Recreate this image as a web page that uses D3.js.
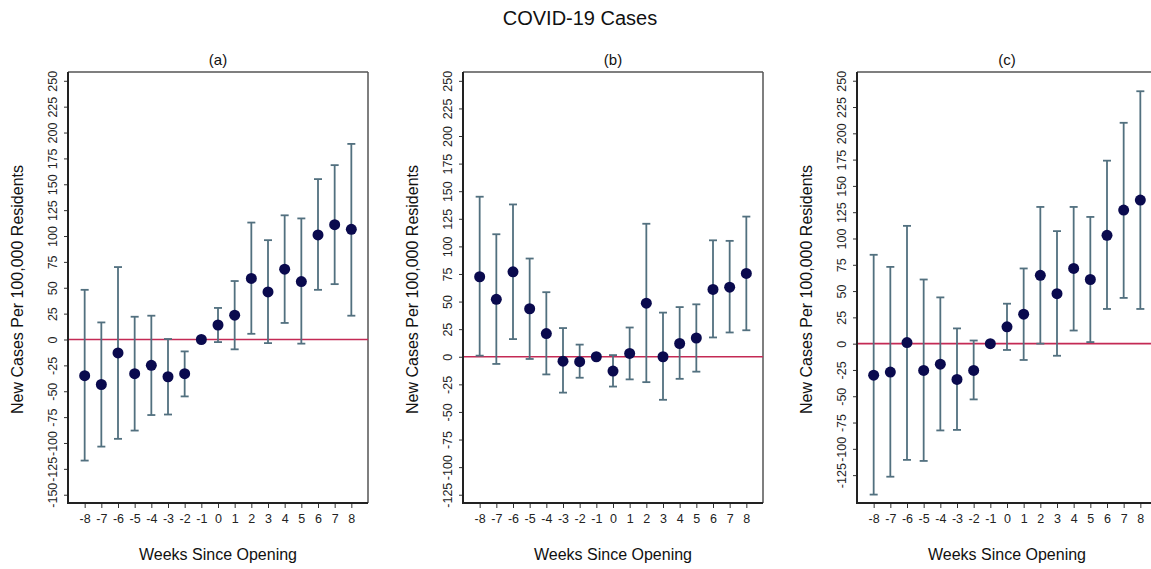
<!DOCTYPE html>
<html lang="en">
<head>
<meta charset="UTF-8">
<title>COVID-19 Cases</title>
<script src="https://d3js.org/d3.v7.min.js"></script>
<style>
  body { margin: 0; background: #fff; }
  svg { font-family: "Liberation Sans", Arial, sans-serif; display: block; }
  .tick text { font-size: 12.5px; fill: #222; }
  .tick line { stroke: #333; }
  .domain { display: none; }
</style>
</head>
<body>
<svg id="chart" width="1151" height="569"></svg>
<script>
// weeks relative to opening
const weeks = [-8, -7, -6, -5, -4, -3, -2, -1, 0, 1, 2, 3, 4, 5, 6, 7, 8];

// panel (a)
const estA = [-35, -43.5, -13, -33, -25, -36, -33, 0, 14, 23.5, 59, 46, 68, 56, 101, 111, 106.5];
const loA  = [-117, -103.5, -96, -88, -73, -72.5, -55, 0, -2.5, -9.5, 5.5, -3.5, 16, -4, 48, 53.5, 23];
const hiA  = [48, 16.5, 70, 22, 23, 0.5, -11.5, 0, 30.5, 56.5, 113, 96, 120, 117, 155, 168.5, 189];

// panel (b)
const estB = [72.5, 52, 77, 43.5, 21, -4, -4.5, 0, -13, 3, 48.5, 0, 12, 17, 61, 63, 75.5];
const loB  = [1, -6.5, 16, -2, -16, -32.5, -19, 0, -27, -20.5, -23, -39, -20, -13.5, 17.5, 22, 24];
const hiB  = [145, 111, 138, 89, 58.5, 26, 11, 0, 1.5, 26.5, 120.5, 40, 45, 47.5, 105.5, 105, 127];

// panel (c)
const estC = [-30, -27, 1, -25.5, -19.5, -34, -25.5, 0, 16, 28, 65, 47.5, 71.5, 61, 103, 127, 136.5];
const loC  = [-143.5, -126.5, -110.5, -111.5, -82.5, -82, -53, 0, -6, -15.5, 0, -11.5, 12.5, 1.5, 33, 43.5, 33];
const hiC  = [84.5, 73, 112, 61, 44, 14.5, 3, 0, 38, 71.5, 130, 107, 130, 120.5, 174, 210, 240];

const panels = [
  { label: "(a)", est: estA, lo: loA, hi: hiA, yTicks: d3.range(-150, 251, 25), yDom: [-158, 258.5] },
  { label: "(b)", est: estB, lo: loB, hi: hiB, yTicks: d3.range(-125, 251, 25), yDom: [-132.5, 258] },
  { label: "(c)", est: estC, lo: loC, hi: hiC, yTicks: d3.range(-125, 251, 25), yDom: [-151.5, 258.3] }
];

const svg = d3.select("#chart");
const lefts = [68, 463, 857];
const plotTop = 72, plotBottom = 503, plotW = 300;
const fmt = d => String(d); // plain hyphen for negatives, like the original

svg.append("text")
  .attr("x", 580).attr("y", 25)
  .attr("text-anchor", "middle")
  .attr("font-size", 20)
  .attr("fill", "#111")
  .text("COVID-19 Cases");

panels.forEach((p, i) => {
  const left = lefts[i];
  const x = d3.scaleLinear().domain([-9, 9]).range([left, left + plotW]);
  const y = d3.scaleLinear().domain(p.yDom).range([plotBottom, plotTop]);
  const g = svg.append("g");

  // frame (top / right, lighter)
  g.append("line").attr("x1", left).attr("x2", left + plotW).attr("y1", plotTop).attr("y2", plotTop)
    .attr("stroke", "#555").attr("stroke-width", 1.5);
  g.append("line").attr("x1", left + plotW).attr("x2", left + plotW).attr("y1", plotTop).attr("y2", plotBottom)
    .attr("stroke", "#555").attr("stroke-width", 1.5);

  // zero line
  g.append("line")
    .attr("x1", left).attr("x2", left + plotW)
    .attr("y1", y(0)).attr("y2", y(0))
    .attr("stroke", "#c42a55").attr("stroke-width", 1.6);

  // y axis, labels turned vertical
  const ya = g.append("g")
    .attr("transform", `translate(${left},0)`)
    .call(d3.axisLeft(y).tickValues(p.yTicks).tickSize(4).tickFormat(fmt));
  ya.selectAll(".tick text")
    .attr("transform", "rotate(-90)")
    .attr("x", 0)
    .attr("y", -11)
    .attr("dy", 0)
    .attr("text-anchor", "middle");

  // x axis
  g.append("g")
    .attr("transform", `translate(0,${plotBottom})`)
    .call(d3.axisBottom(x).tickValues(weeks).tickSize(5).tickPadding(6).tickFormat(fmt));

  // axis lines (darker)
  g.append("line").attr("x1", left).attr("x2", left).attr("y1", plotTop).attr("y2", plotBottom + 1)
    .attr("stroke", "#222").attr("stroke-width", 2);
  g.append("line").attr("x1", left - 1).attr("x2", left + plotW).attr("y1", plotBottom).attr("y2", plotBottom)
    .attr("stroke", "#222").attr("stroke-width", 2);

  // error bars
  const bars = g.append("g").attr("stroke", "#52707f").attr("stroke-width", 1.8);
  weeks.forEach((w, k) => {
    if (p.lo[k] === p.hi[k]) return;
    bars.append("line").attr("x1", x(w)).attr("x2", x(w)).attr("y1", y(p.lo[k])).attr("y2", y(p.hi[k]));
    bars.append("line").attr("x1", x(w) - 4).attr("x2", x(w) + 4).attr("y1", y(p.lo[k])).attr("y2", y(p.lo[k]));
    bars.append("line").attr("x1", x(w) - 4).attr("x2", x(w) + 4).attr("y1", y(p.hi[k])).attr("y2", y(p.hi[k]));
  });

  // points
  g.append("g").selectAll("circle")
    .data(weeks)
    .join("circle")
    .attr("cx", d => x(d))
    .attr("cy", (d, k) => y(p.est[k]))
    .attr("r", 5.5)
    .attr("fill", "#0a0a4e");

  // titles
  g.append("text")
    .attr("x", left + plotW / 2).attr("y", 65)
    .attr("text-anchor", "middle").attr("font-size", 15).attr("fill", "#111")
    .text(p.label);

  g.append("text")
    .attr("x", left + plotW / 2).attr("y", 560)
    .attr("text-anchor", "middle").attr("font-size", 16).attr("fill", "#111")
    .text("Weeks Since Opening");

  g.append("text")
    .attr("transform", `translate(${left - 45},${(plotTop + plotBottom) / 2 + 2}) rotate(-90)`)
    .attr("text-anchor", "middle").attr("font-size", 16).attr("fill", "#111")
    .text("New Cases Per 100,000 Residents");
});
</script>
</body>
</html>
